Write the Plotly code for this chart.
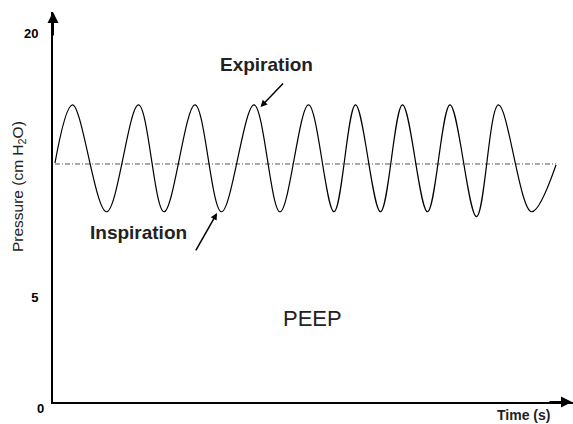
# %%
import plotly.graph_objects as go

# %%
# pressure waveform: start, alternating peaks/troughs, end
time_s = [0.04, 0.39, 1.07, 1.71, 2.22, 2.84, 3.37, 4.02, 4.54, 5.11, 5.62,
          6.05, 6.55, 6.99, 7.49, 7.94, 8.47, 8.91, 9.57, 10.06]
pressure = [12.63, 15.92, 9.86, 15.92, 9.86, 15.92, 9.86, 15.92, 9.86, 15.92, 9.86,
            15.92, 9.86, 15.92, 9.86, 15.92, 9.58, 15.92, 9.86, 12.51]

# mean pressure line
mean_time = [0.04, 10.06]
mean_pressure = [12.57, 12.57]

tick_vals = [5, 20]
tick_text = ["5", "20"]

txt = "#222222"
font = "Liberation Sans, Arial, sans-serif"

fig = go.Figure()

fig.add_trace(go.Scatter(x=mean_time, y=mean_pressure, mode="lines",
                         line=dict(color="#555555", width=1, dash="5px,2px,1px,2px"),
                         hoverinfo="skip"))

fig.add_trace(go.Scatter(x=time_s, y=pressure, mode="lines",
                         line=dict(color="black", width=1.2, shape="spline", smoothing=1),
                         hoverinfo="skip"))

# %%
# labels and arrows
fig.add_annotation(x=4.27, y=18.2, text="<b>Expiration</b>", showarrow=False,
                   font=dict(size=19, color=txt, family=font))
fig.add_annotation(x=4.15, y=15.8, ax=24, ay=-25, text="", showarrow=True,
                   arrowhead=2, arrowsize=0.9, arrowwidth=1.5, arrowcolor="black")

fig.add_annotation(x=1.70, y=8.7, text="<b>Inspiration</b>", showarrow=False,
                   font=dict(size=19, color=txt, family=font))
fig.add_annotation(x=3.28, y=9.79, ax=-22, ay=39, text="", showarrow=True,
                   arrowhead=2, arrowsize=0.9, arrowwidth=1.5, arrowcolor="black")

fig.add_annotation(x=5.18, y=3.83, text="PEEP", showarrow=False,
                   font=dict(size=22, color=txt, family=font))

fig.add_annotation(xref="paper", yref="paper", x=0.905, y=0, yshift=-13,
                   xanchor="center", yanchor="middle",
                   text="<b>Time (s)</b>", showarrow=False,
                   font=dict(size=14, color=txt, family=font))

fig.add_annotation(xref="paper", yref="paper", x=0, y=0, xshift=-13, yshift=-6,
                   xanchor="center", yanchor="middle",
                   text="<b>0</b>", showarrow=False,
                   font=dict(size=13, color="black", family=font))

fig.add_annotation(xref="paper", yref="paper", x=0, y=0.551, xshift=-35,
                   xanchor="center", yanchor="middle",
                   text="Pressure (cm H<sub>2</sub>O)", textangle=-90, showarrow=False,
                   font=dict(size=15.5, color=txt, family=font))

# axis arrow heads
fig.add_annotation(xref="paper", yref="paper", x=0, y=1, ax=0, ay=25, text="",
                   showarrow=True, arrowhead=2, arrowsize=1.1, arrowwidth=2, arrowcolor="black")
fig.add_annotation(xref="paper", yref="paper", x=1, y=0, ax=-25, ay=0, text="",
                   showarrow=True, arrowhead=2, arrowsize=1.1, arrowwidth=2, arrowcolor="black")

fig.update_xaxes(range=[0, 10.4], showgrid=False, zeroline=False, showticklabels=False,
                 showline=True, linecolor="black", linewidth=2)
fig.update_yaxes(range=[-0.93, 21.19], showgrid=False, zeroline=False,
                 tickvals=tick_vals, ticktext=tick_text, ticks="", ticklabelstandoff=10,
                 tickfont=dict(size=13, color="black", family=font, weight="bold"),
                 showline=True, linecolor="black", linewidth=2)

fig.update_layout(width=573, height=424, showlegend=False,
                  margin=dict(l=53, r=0, t=12, b=22),
                  plot_bgcolor="white", paper_bgcolor="white")

# page has a default body margin, drop it so the chart sits at 0,0
fig.write_html("out.html", config={"displayModeBar": False},
               post_script="document.body.style.margin='0';")
